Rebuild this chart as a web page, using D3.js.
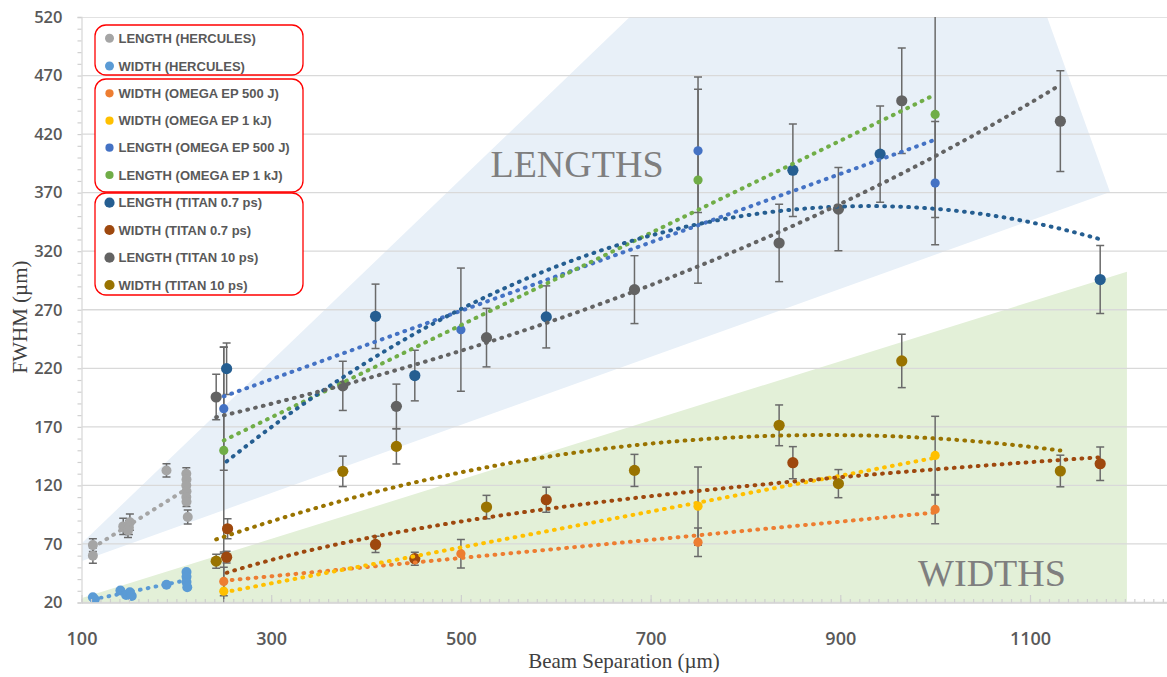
<!DOCTYPE html>
<html>
<head>
<meta charset="utf-8">
<script src="https://cdn.jsdelivr.net/npm/d3@7"></script>
<style>
  html, body { margin: 0; padding: 0; background: #ffffff; }
  svg { display: block; }
</style>
</head>
<body>
<svg id="chart" width="1167" height="677"></svg>
<script>
// ---------- data (beam separation in µm, FWHM in µm, ± error) ----------
const herculesLengthX   = [112, 112, 144, 149, 151, 150, 189.6, 210.5, 210.7, 210.5, 210.7, 210.5, 210.7, 212];
const herculesLengthY   = [69, 60, 85, 81.5, 88.6, 84, 132.8, 130, 125, 120, 115, 110, 106, 93];
const herculesLengthErr = [5.5, 6.5, 7, 6, 7, 6, 5.7, 5, 5, 5, 5, 5, 4, 6];

const herculesWidthX = [112, 114, 141, 147, 151, 153, 189.6, 210.7, 210.7, 210.7, 211.5];
const herculesWidthY = [24.5, 22.5, 30.3, 26.5, 28.8, 25.5, 35.1, 46, 42, 37.4, 33];

const omega500X      = [250, 500, 750, 1000];
const omega500WidthY = [38, 61.7, 71.5, 99.5];
const omega500WidthErr = [12.2, 12.2, 12.2, 12.2];
const omega500LengthY = [185.5, 253, 405.7, 378.2];
const omega500LengthErr = [52.6, 52.6, 52.6, 52.6];

const omega1kX      = [250, 750, 1000];
const omega1kWidthY = [29.7, 102.3, 145.6];
const omega1kWidthErr = [33.4, 33.4, 33.4];
const omega1kLengthY = [149.9, 380.7, 436.8];
const omega1kLengthErr = [88, 88, 88];

const titan07LengthX   = [253, 410, 451.4, 590, 850, 942, 1174];
const titan07LengthY   = [219.7, 264.4, 213.8, 263.9, 389.2, 402.9, 295.8];
const titan07LengthErr = [22, 27.5, 21.6, 26.5, 39.5, 41, 29];
// quadratic trend for the Titan 0.7 ps lengths: [c0, c1, c2] of c0 + c1·x + c2·x²
const titan07LengthTrendCoef = [-53.0, 0.8850, -0.0004758];
const titan07WidthX    = [253, 410, 451.4, 590, 850, 1174];
const titan07WidthY    = [58.7, 69.6, 57.4, 107.8, 139.4, 138.5];
const titan07WidthErr  = [5, 7, 5.6, 10.7, 13.7, 14.3];
// second 250 µm Titan 0.7 ps width shot, plotted but left out of the fit
const titan07ShotX        = [254];
const titan07ShotWidthY   = [83];
const titan07ShotWidthErr = [8.5];

const titan10X         = [242, 375.5, 432, 527, 683, 835.5, 898, 964.8, 1132];
const titan10LengthY   = [195.5, 205, 187.5, 246.2, 287.2, 327, 355.9, 448.5, 431];
const titan10LengthErr = [19.5, 21, 19, 25, 29, 33, 35.5, 45, 43];
const titan10WidthY    = [55.3, 132, 153.3, 101.5, 132.8, 171.3, 121.5, 226.3, 132.3];
const titan10WidthErr  = [6, 13, 15, 10, 13.7, 17.4, 12, 22.8, 13.5];

// shaded guide regions (data units)
const lengthsBand = [[100.5, 70.8], [678, 520], [1118, 520], [1184.3, 370.6], [100.5, 55.4]];
const widthsBand  = [[100.5, 23.8], [1202.2, 302.5], [1202.2, 20], [100.5, 20]];

const xTickLabels = [100, 300, 500, 700, 900, 1100];
const yTickLabels = [20, 70, 120, 170, 220, 270, 320, 370, 420, 470, 520];

// ---------- series table ----------
const zip = (xs, ys, es) => xs.map((x, i) => ({ x, y: ys[i], e: es ? es[i] : null }));
const series = [
  { name: "LENGTH (HERCULES)",        color: "#a5a5a5", r: 5,   fit: "linear", pts: zip(herculesLengthX, herculesLengthY, herculesLengthErr) },
  { name: "WIDTH (HERCULES)",         color: "#5b9bd5", r: 5,   fit: "linear", pts: zip(herculesWidthX, herculesWidthY) },
  { name: "WIDTH (OMEGA EP 500 J)",   color: "#ed7d31", r: 4.6, fit: "linear", pts: zip(omega500X, omega500WidthY, omega500WidthErr) },
  { name: "WIDTH (OMEGA EP 1 kJ)",    color: "#ffc000", r: 4.6, fit: "linear", pts: zip(omega1kX, omega1kWidthY, omega1kWidthErr) },
  { name: "LENGTH (OMEGA EP 500 J)",  color: "#4472c4", r: 4.6, fit: "linear", pts: zip(omega500X, omega500LengthY, omega500LengthErr) },
  { name: "LENGTH (OMEGA EP 1 kJ)",   color: "#70ad47", r: 4.6, fit: "linear", pts: zip(omega1kX, omega1kLengthY, omega1kLengthErr) },
  { name: "LENGTH (TITAN 0.7 ps)",    color: "#255e91", r: 5.6, fit: "coef",   pts: zip(titan07LengthX, titan07LengthY, titan07LengthErr), coef: titan07LengthTrendCoef },
  { name: "WIDTH (TITAN 0.7 ps)",     color: "#9e480e", r: 5.6, fit: "log",    pts: zip(titan07WidthX, titan07WidthY, titan07WidthErr) },
  { name: "LENGTH (TITAN 10 ps)",     color: "#636363", r: 5.6, fit: "exp",    pts: zip(titan10X, titan10LengthY, titan10LengthErr) },
  { name: "WIDTH (TITAN 10 ps)",      color: "#997300", r: 5.6, fit: "poly2",  pts: zip(titan10X, titan10WidthY, titan10WidthErr) }
];
const extraPoints = [
  { color: "#9e480e", r: 5.6, pts: zip(titan07ShotX, titan07ShotWidthY, titan07ShotWidthErr) }
];

// ---------- least-squares trend fits ----------
function linFit(xs, ys) {
  const n = xs.length, mx = d3.mean(xs), my = d3.mean(ys);
  let sxy = 0, sxx = 0;
  for (let i = 0; i < n; i++) { sxy += (xs[i] - mx) * (ys[i] - my); sxx += (xs[i] - mx) ** 2; }
  const b = sxy / sxx;
  return { a: my - b * mx, b };
}
function poly2Fit(xs, ys) {
  const S = k => d3.sum(xs, x => x ** k);
  const T = k => d3.sum(xs, (x, i) => ys[i] * x ** k);
  const A = [[S(0), S(1), S(2)], [S(1), S(2), S(3)], [S(2), S(3), S(4)]];
  const B = [T(0), T(1), T(2)];
  // Gaussian elimination
  for (let i = 0; i < 3; i++) {
    for (let j = i + 1; j < 3; j++) {
      const f = A[j][i] / A[i][i];
      for (let k = i; k < 3; k++) A[j][k] -= f * A[i][k];
      B[j] -= f * B[i];
    }
  }
  const c = [0, 0, 0];
  for (let i = 2; i >= 0; i--) {
    let s = B[i];
    for (let k = i + 1; k < 3; k++) s -= A[i][k] * c[k];
    c[i] = s / A[i][i];
  }
  return c;
}
const polyEval = c => x => c[0] + c[1] * x + c[2] * x * x;
function trendFn(s) {
  const xs = s.pts.map(p => p.x), ys = s.pts.map(p => p.y);
  if (s.fit === "coef")   return polyEval(s.coef);
  if (s.fit === "linear") { const f = linFit(xs, ys); return x => f.a + f.b * x; }
  if (s.fit === "log")    { const f = linFit(xs.map(Math.log), ys); return x => f.a + f.b * Math.log(x); }
  if (s.fit === "exp")    { const f = linFit(xs, ys.map(Math.log)); return x => Math.exp(f.a + f.b * x); }
  return polyEval(poly2Fit(xs, ys));
}

// ---------- layout ----------
const svg = d3.select("#chart");
const x = d3.scaleLinear().domain([100, 1300]).range([81.5, 1219.7]);
const y = d3.scaleLinear().domain([20, 520]).range([602.5, 17]);
const plotRight = 1167;

svg.append("defs").append("clipPath").attr("id", "plotClip")
  .append("rect").attr("x", x(100)).attr("y", y(520)).attr("width", plotRight - x(100)).attr("height", y(20) - y(520));

const plot = svg.append("g").attr("clip-path", "url(#plotClip)");

// guide regions
const band = d3.line().x(d => x(d[0])).y(d => y(d[1]));
plot.append("path").attr("d", band(lengthsBand) + "Z").attr("fill", "#e8f0f8");
plot.append("path").attr("d", band(widthsBand) + "Z").attr("fill", "#e3f0d8");

// horizontal gridlines
plot.append("g").selectAll("line").data(yTickLabels).join("line")
  .attr("x1", x(100)).attr("x2", plotRight)
  .attr("y1", d => y(d)).attr("y2", d => y(d))
  .attr("stroke", "#d9d9d9").attr("stroke-width", 1.3);

// region captions
svg.append("text").attr("x", 577).attr("y", 176.7).attr("text-anchor", "middle")
  .attr("font-family", "Liberation Serif, serif").attr("font-size", 38).attr("fill", "#7f7f7f")
  .text("LENGTHS");
svg.append("text").attr("x", 992).attr("y", 585.7).attr("text-anchor", "middle")
  .attr("font-family", "Liberation Serif, serif").attr("font-size", 38).attr("fill", "#7f7f7f")
  .text("WIDTHS");

// y axis: minor ticks + labels
const yMinor = svg.append("g").attr("transform", `translate(${x(100)},0)`)
  .call(d3.axisLeft(y).tickValues(d3.range(20, 521, 10)).tickSize(4).tickFormat(""));
yMinor.select(".domain").attr("stroke", "#d9d9d9").attr("stroke-width", 1.3);
yMinor.selectAll(".tick line").attr("stroke", "#d0d0d0").attr("stroke-width", 1.2);
const yLab = svg.append("g").attr("transform", `translate(${x(100)},0)`)
  .call(d3.axisLeft(y).tickValues(yTickLabels).tickSize(0).tickPadding(19).tickFormat(d3.format("d")));
yLab.select(".domain").remove();
yLab.selectAll("text").attr("font-family", "Open Sans, sans-serif").attr("font-weight", 600)
  .attr("font-size", 16.5).attr("fill", "#595959");

// x axis: minor + major ticks pointing up, labels below
const xAxisG = svg.append("g").attr("transform", `translate(0,${y(20)})`);
const xMinor = xAxisG.append("g")
  .call(d3.axisBottom(x).tickValues(d3.range(100, 1301, 10)).tickSize(-3.5).tickSizeOuter(0).tickFormat(""));
xMinor.select(".domain").attr("stroke", "#d0d0d0").attr("stroke-width", 1.6);
xMinor.selectAll(".tick line").attr("stroke", "#cfcfcf").attr("stroke-width", 1.2);
const xMajor = xAxisG.append("g")
  .call(d3.axisBottom(x).tickValues(xTickLabels).tickSize(-7.5).tickSizeOuter(0).tickPadding(30).tickFormat(d3.format("d")));
xMajor.select(".domain").remove();
xMajor.selectAll(".tick line").attr("stroke", "#cfcfcf").attr("stroke-width", 1.2);
xMajor.selectAll("text").attr("font-family", "Open Sans, sans-serif").attr("font-weight", 600)
  .attr("font-size", 18).attr("fill", "#595959");

// axis titles
svg.append("text").attr("x", 624).attr("y", 668).attr("text-anchor", "middle")
  .attr("font-family", "Liberation Serif, serif").attr("font-size", 21).attr("fill", "#404040")
  .text("Beam Separation (µm)");
svg.append("text").attr("transform", "translate(27,317) rotate(-90)").attr("text-anchor", "middle")
  .attr("font-family", "Liberation Serif, serif").attr("font-size", 21).attr("fill", "#404040")
  .text("FWHM (µm)");

// error bars
const allMarks = series.concat(extraPoints);
const ebG = plot.append("g").attr("stroke", "#6a6a6a").attr("stroke-width", 1.5).attr("fill", "none");
allMarks.forEach(s => {
  s.pts.filter(p => p.e != null).forEach(p => {
    const cx = x(p.x), y0 = y(p.y - p.e), y1 = y(p.y + p.e);
    ebG.append("line").attr("x1", cx).attr("x2", cx).attr("y1", y0).attr("y2", y1);
    ebG.append("line").attr("x1", cx - 4).attr("x2", cx + 4).attr("y1", y0).attr("y2", y0);
    ebG.append("line").attr("x1", cx - 4).attr("x2", cx + 4).attr("y1", y1).attr("y2", y1);
  });
});

// markers
allMarks.forEach(s => {
  plot.append("g").selectAll("circle").data(s.pts).join("circle")
    .attr("cx", d => x(d.x)).attr("cy", d => y(d.y)).attr("r", s.r).attr("fill", s.color);
});

// dotted trend lines
const trendLine = d3.line().x(d => x(d[0])).y(d => y(d[1]));
series.forEach(s => {
  const f = trendFn(s);
  const [x0, x1] = d3.extent(s.pts, p => p.x);
  const xs = d3.range(x0, x1, 1).concat([x1]);
  plot.append("path").attr("d", trendLine(xs.map(v => [v, f(v)])))
    .attr("fill", "none").attr("stroke", s.color).attr("stroke-width", 4)
    .attr("stroke-linecap", "round").attr("stroke-dasharray", "0.8,7.2");
});

// legend
const legendBoxes = [[95, 25, 208, 50], [95, 79, 208, 113], [95, 193, 208, 102]];
svg.append("g").selectAll("rect").data(legendBoxes).join("rect")
  .attr("x", d => d[0]).attr("y", d => d[1]).attr("width", d => d[2]).attr("height", d => d[3])
  .attr("rx", 11).attr("fill", "#ffffff").attr("stroke", "#ff0000").attr("stroke-width", 1.3);
const legendY = [38.3, 66, 93.3, 120.7, 147.7, 175, 202.7, 230, 257.7, 285];
const lg = svg.append("g").selectAll("g").data(series).join("g")
  .attr("transform", (d, i) => `translate(109.5,${legendY[i]})`);
lg.append("circle").attr("r", d => d.r - 0.5).attr("fill", d => d.color);
lg.append("text").attr("x", 9).attr("dy", "0.35em")
  .attr("font-family", "Liberation Sans, Arial, sans-serif").attr("font-size", 13)
  .attr("font-weight", "bold").attr("fill", "#595959")
  .text(d => d.name);
</script>
</body>
</html>
